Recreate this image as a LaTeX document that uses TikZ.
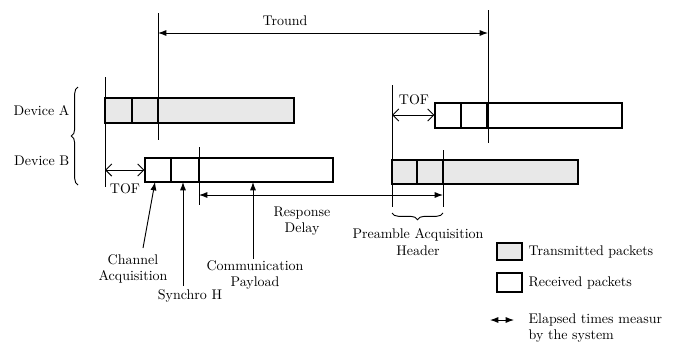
\documentclass[tikz,border=0pt]{standalone}
\usetikzlibrary{arrows.meta,fit,positioning,decorations.pathreplacing}

\begin{document}
\begin{tikzpicture}[
  x=0.75pt, y=-0.75pt,
  font=\fontsize{10.5}{12.5}\selectfont,
  >={Latex[length=2.2mm,width=1.6mm]},
  bar/.style={draw, line width=0.9pt, inner sep=0pt},
  txbar/.style={bar, fill=gray!18},
  rxbar/.style={bar, fill=white},
  tick/.style={line width=0.7pt},
  timearrow/.style={<->, line width=0.7pt},
  tofarrow/.style={{Straight Barb[length=1.6mm]}-{Straight Barb[length=1.6mm]}, line width=0.7pt},
  pointer/.style={->, line width=0.7pt},
  lbl/.style={align=center, inner sep=1pt},
  brace/.style={decorate, decoration={brace, amplitude=5pt}, line width=0.7pt}
]
\useasboundingbox (0,0) rectangle (681,354);

% packet bars
\coordinate (txA1) at (105,98);  \coordinate (txA2) at (294,123);
\coordinate (rxB1) at (145,158); \coordinate (rxB2) at (333,182);
\coordinate (rxA1) at (435,103); \coordinate (rxA2) at (622,128);
\coordinate (txB1) at (392,160); \coordinate (txB2) at (578,184);
\node[txbar, fit=(txA1)(txA2)] (txA) {};
\node[rxbar, fit=(rxB1)(rxB2)] (rxB) {};
\node[rxbar, fit=(rxA1)(rxA2)] (rxA) {};
\node[txbar, fit=(txB1)(txB2)] (txB) {};
\foreach \xd in {132,158} \draw[bar] (\xd,98) -- (\xd,123);
\foreach \xd in {171,199} \draw[bar] (\xd,158) -- (\xd,182);
\foreach \xd in {461,487} \draw[bar] (\xd,103) -- (\xd,128);
\foreach \xd in {417,443} \draw[bar] (\xd,160) -- (\xd,184);

% time marks
\coordinate (sendA) at (105,77);   \coordinate (sendAend) at (105,187);
\coordinate (syncA) at (158,13);   \coordinate (syncAend) at (158,140);
\coordinate (syncR) at (488,10);   \coordinate (syncRend) at (488,143);
\coordinate (syncB) at (199,147);  \coordinate (syncBend) at (199,205);
\coordinate (sendB) at (392,85);   \coordinate (sendBend) at (392,207);
\coordinate (hdrB) at (443,150);   \coordinate (hdrBend) at (443,207);
\draw[tick] (sendA) -- (sendAend);
\draw[tick] (syncA) -- (syncAend);
\draw[tick] (syncR) -- (syncRend);
\draw[tick] (syncB) -- (syncBend);
\draw[tick] (sendB) -- (sendBend);
\draw[tick] (hdrB) -- (hdrBend);

% measured times
\coordinate (troundL) at (158,33); \coordinate (troundR) at (488,33);
\draw[timearrow] (troundL) -- (troundR);
\node[lbl] (troundLbl) at (285,21) {Tround};

\coordinate (tofBL) at (105,170);
\draw[tofarrow] (tofBL) -- (tofBL -| rxB.west);
\node[lbl] (tofBLbl) at (125,189) {TOF};

\coordinate (tofAL) at (392,115);
\draw[tofarrow] (tofAL) -- (tofAL -| rxA.west);
\node[lbl] (tofALbl) at (414,100) {TOF};

\coordinate (delayL) at (199,195); \coordinate (delayR) at (443,195);
\draw[timearrow] (delayL) -- (delayR);
\node[lbl] (delayLbl) at (302,221) {Response\\Delay};

% devices
\node[lbl, anchor=east] (devA) at (71,111) {Device A};
\node[lbl, anchor=east] (devB) at (71,161) {Device B};
\coordinate (devBraceB) at (78,185); \coordinate (devBraceT) at (78,87);
\draw[brace] (devBraceB) -- (devBraceT);

% packet fields
\node[lbl] (chanLbl) at (133,269) {Channel\\Acquisition};
\coordinate (chanTail) at (143,248); \coordinate (chanHead) at (155,182);
\draw[pointer] (chanTail) -- (chanHead);

\node[lbl] (syncLbl) at (190,296) {Synchro H};
\coordinate (syncTail) at (183,286); \coordinate (syncHead) at (183,182);
\draw[pointer] (syncTail) -- (syncHead);

\node[lbl] (payLbl) at (255,275) {Communication\\Payload};
\coordinate (payTail) at (253,259); \coordinate (payHead) at (253,182);
\draw[pointer] (payTail) -- (payHead);

\coordinate (hdrBraceR) at (443,213); \coordinate (hdrBraceL) at (392,213);
\draw[brace] (hdrBraceR) -- (hdrBraceL);
\node[lbl] (hdrLbl) at (418,242) {Preamble Acquisition\\Header};

% legend
\coordinate (legTx1) at (497,243); \coordinate (legTx2) at (522,260);
\coordinate (legRx1) at (497,273); \coordinate (legRx2) at (522,292);
\node[txbar, fit=(legTx1)(legTx2)] (legTx) {};
\node[rxbar, fit=(legRx1)(legRx2)] (legRx) {};
\node[lbl, anchor=west] (legTxLbl) at (527,252) {Transmitted packets};
\node[lbl, anchor=west] (legRxLbl) at (527,283) {Received packets};
\coordinate (legArrL) at (490,320); \coordinate (legArrR) at (514,320);
\draw[timearrow] (legArrL) -- (legArrR);
\node[lbl, align=left, anchor=north west] (legArrLbl) at (527,312) {Elapsed times measur\\by the system};
\end{tikzpicture}
\end{document}
